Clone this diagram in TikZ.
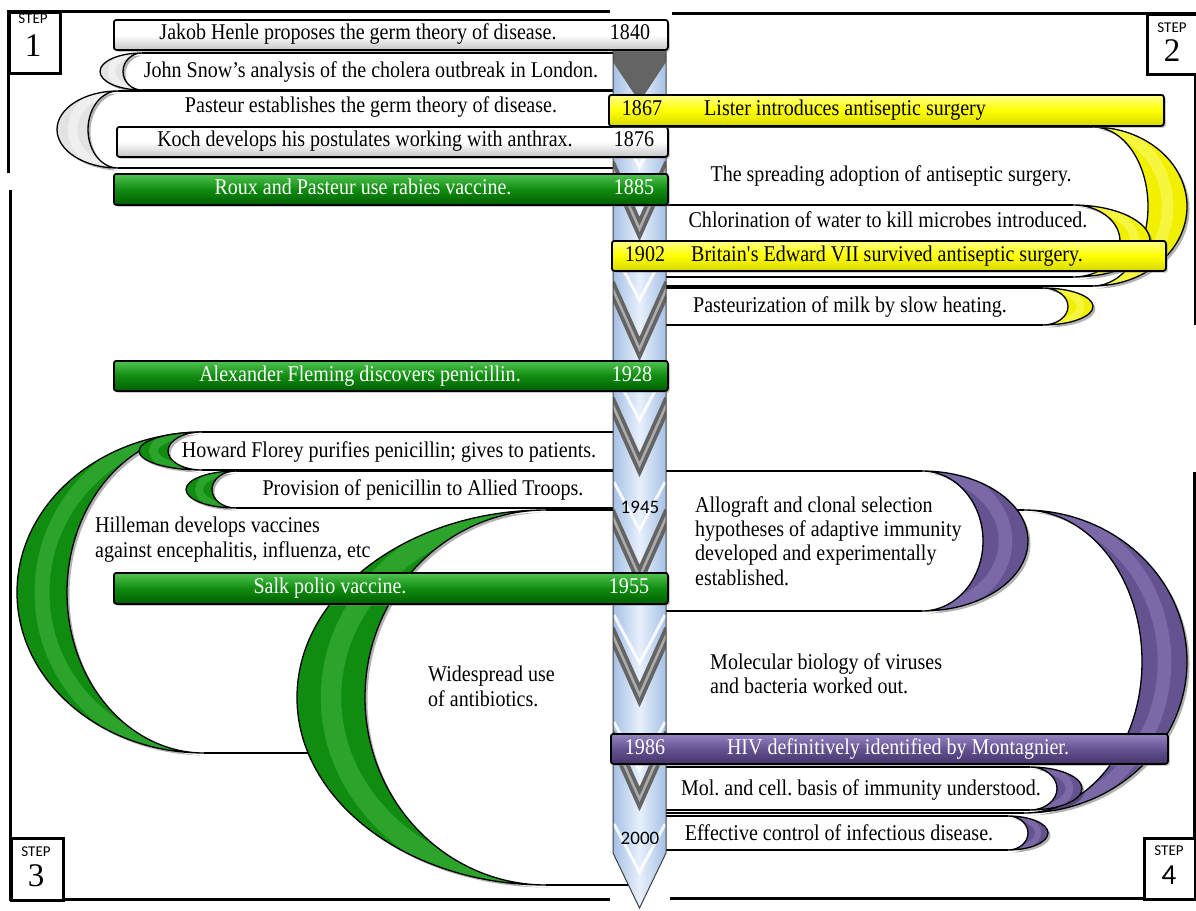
\documentclass[tikz,border=0pt]{standalone}
\usepackage{fontspec}
\setmainfont{Liberation Serif}[FakeStretch=0.89]
\newfontfamily\labelfont{Carlito}
\newfontfamily\stepserif{Liberation Serif}
\usetikzlibrary{shadows}
\frenchspacing

\definecolor{grnbase}{RGB}{16,140,16}
\definecolor{grnlight}{RGB}{80,195,80}
\definecolor{grndark}{RGB}{0,95,0}
\definecolor{ylwbase}{RGB}{255,255,0}
\definecolor{ylwfill}{RGB}{240,240,0}
\definecolor{ylwlight}{RGB}{255,255,140}
\definecolor{ylwdark}{RGB}{215,215,0}
\definecolor{prpbase}{RGB}{100,82,145}
\definecolor{prplight}{RGB}{150,132,195}
\definecolor{prpdark}{RGB}{68,52,105}
\definecolor{spineblue}{RGB}{165,192,228}
\definecolor{spinepale}{RGB}{232,240,252}
\definecolor{chevgray}{RGB}{100,100,100}

\tikzset{
  crescent/.style n args={5}{insert path={
    (#1,#2) .. controls ({#1+0.5523*(#4-#1)},#2) and (#4,{(#2+#3)/2-0.27615*(#3-#2)}) .. (#4,{(#2+#3)/2})
    .. controls (#4,{(#2+#3)/2+0.27615*(#3-#2)}) and ({#1+0.5523*(#4-#1)},#3) .. (#1,#3)
    .. controls ({#1+0.5523*(#5-#1)},#3) and (#5,{(#2+#3)/2+0.27615*(#3-#2)}) .. (#5,{(#2+#3)/2})
    .. controls (#5,{(#2+#3)/2-0.27615*(#3-#2)}) and ({#1+0.5523*(#5-#1)},#2) .. (#1,#2) -- cycle}},
  halfarc/.style n args={4}{insert path={
    (#1,#2) .. controls ({#1+0.5523*(#4-#1)},#2) and (#4,{(#2+#3)/2-0.27615*(#3-#2)}) .. (#4,{(#2+#3)/2})
    .. controls (#4,{(#2+#3)/2+0.27615*(#3-#2)}) and ({#1+0.5523*(#4-#1)},#3) .. (#1,#3)}},
  spineshape/.style={insert path={(613,49) -- (666,49) -- (666,853) -- (639.5,908) -- (613,853) -- cycle}},
  frame/.style={line width=3pt, line join=miter},
  bandline/.style={line width=1.2pt},
  bar/.style={draw=black, line width=1.8pt, rounded corners=2.5pt, inner sep=0pt, anchor=north west,
    minimum height=30pt, drop shadow={opacity=0.4, shadow xshift=2pt, shadow yshift=-2pt}},
  whitebar/.style={bar, top color=white, bottom color=gray!45, middle color=white},
  greenbar/.style={bar, top color=grnlight, bottom color=grndark, middle color=grnbase},
  yellowbar/.style={bar, top color=ylwlight, bottom color=ylwdark, middle color=ylwbase},
  purplebar/.style={bar, top color=prplight, bottom color=prpdark, middle color=prpbase},
  txt/.style={font=\fontsize{22.5}{24}\selectfont, inner sep=0pt, text height=16pt, text depth=4.5pt},
  mtxt/.style={font=\fontsize{22.5}{24.4}\selectfont, inner sep=0pt, align=left, anchor=north west},
  spinelbl/.style={font=\labelfont\fontsize{19}{22}\selectfont, inner sep=0pt},
  stepbox/.style={draw=black, line width=2.5pt, fill=white, anchor=north west, inner sep=0pt},
  steptag/.style={font=\labelfont\fontsize{15}{17}\selectfont, inner sep=0pt},
  stepnum/.style={font=\stepserif\fontsize{33}{35}\selectfont, inner sep=0pt},
}

% a white band running from the spine (#1) to a crescent end:
% tip x #2, top #3, bottom #4, outer bulge #5, inner bulge #6, colour #7, highlight #8
\newcommand\band[8]{%
  \pgfmathsetmacro\bandmid{(#5+#6)/2}%
  \pgfmathsetmacro\bandhl{0.3*abs(#5-#6)}%
  \fill[white] (#1,#3) -- (#2,#3)
    .. controls ({#2+0.5523*(#6-#2)},#3) and (#6,{(#3+#4)/2-0.27615*(#4-#3)}) .. (#6,{(#3+#4)/2})
    .. controls (#6,{(#3+#4)/2+0.27615*(#4-#3)}) and ({#2+0.5523*(#6-#2)},#4) .. (#2,#4)
    -- (#1,#4) -- cycle;
  \draw[bandline] (#1,#3) -- (#2,#3) (#1,#4) -- (#2,#4);
  \fill[black, opacity=0.3, shift={(2.5,2.5)}, crescent={#2}{#3}{#4}{#5}{#6}];
  \fill[#7, crescent={#2}{#3}{#4}{#5}{#6}];
  \begin{scope}
    \clip[crescent={#2}{#3}{#4}{#5}{#6}];
    \draw[#8, line width=\bandhl pt, opacity=0.45, halfarc={#2}{#3}{#4}{\bandmid}];
  \end{scope}
  \draw[black, line width=1.3pt, crescent={#2}{#3}{#4}{#5}{#6}];
}

\begin{document}
\begin{tikzpicture}[x=1pt,y=-1pt]
\useasboundingbox (0,0) rectangle (1196,910);
\fill[white] (0,0) rectangle (1196,910);

% quadrant frames
\draw[frame] (610,11) -- (8,11) -- (8,173);
\draw[frame] (10,190) -- (10,899) -- (610,899);
\draw[frame] (672,13) -- (1195,13) -- (1195,325);
\draw[frame] (1194,472) -- (1194,898) -- (670,898);

% step tags
\node[stepbox, minimum width=51pt, minimum height=61pt] (step1) at (8,11) {};
\node[steptag] (step1tag) at (33,19) {STEP};
\node[stepnum] (step1num) at (33,46) {1};
\node[stepbox, minimum width=51pt, minimum height=60pt] (step2) at (1146,13) {};
\node[steptag] (step2tag) at (1172,28) {STEP};
\node[stepnum] (step2num) at (1172,51) {2};
\node[stepbox, minimum width=52pt, minimum height=62pt] (step3) at (10,837) {};
\node[steptag] (step3tag) at (36,852) {STEP};
\node[stepnum] (step3num) at (36,876) {3};
\node[stepbox, minimum width=51pt, minimum height=61pt] (step4) at (1143,837) {};
\node[steptag] (step4tag) at (1169,851) {STEP};
\node[steptag, font=\labelfont\fontsize{29}{31}\selectfont] (step4num) at (1169,875) {4};

% step 1 bands
\band{640}{142}{53}{90}{100}{123}{gray!22}{white}
\band{640}{118}{91}{168}{57}{88}{gray!22}{white}

% step 2 bands
\band{640}{1093}{127}{286}{1187}{1148}{ylwfill}{ylwlight}
\band{640}{1073}{205}{277}{1150}{1120}{ylwfill}{ylwlight}
\band{640}{1043}{288}{325}{1093}{1068}{ylwfill}{ylwlight}

% step 3 bands
\band{640}{204}{432}{753}{17}{67}{grnbase}{grnlight}
\band{640}{202}{432}{470}{139}{168}{grnbase}{grnlight}
\band{640}{236}{471}{508}{186}{212}{grnbase}{grnlight}
\band{640}{546}{510}{885}{297}{365}{grnbase}{grnlight}

% step 4 bands
\band{640}{1024}{510}{813}{1187}{1142}{prpbase}{prplight}
\band{640}{922}{471}{611}{1028}{983}{prpbase}{prplight}
\band{640}{1030}{767}{810}{1082}{1057}{prpbase}{prplight}
\band{640}{1008}{816}{850}{1048}{1028}{prpbase}{prplight}

% time spine
\path[left color=spineblue, right color=spineblue, middle color=spinepale, spineshape];
\begin{scope}
  \clip[spineshape];
  \foreach \t in {167,300,420,530,663,770,872}
    \draw[white, line width=3pt, opacity=0.85] (614,\t-48) -- (639.5,\t) -- (665,\t-48);
  \foreach \t in {237,357,473,585,703,807} {
    \draw[chevgray, line width=10pt] (610,\t-74) -- (639.5,\t-8) -- (669,\t-74);
    \draw[gray!65, line width=2.5pt] (610,\t-74) -- (639.5,\t-8) -- (669,\t-74);
  }
  \fill[chevgray] (613,49) -- (666,49) -- (666,62) -- (639.5,102) -- (613,62) -- cycle;
\end{scope}
\draw[gray!50!black, line width=1pt, spineshape];
\node[spinelbl] (y1945) at (640,507) {1945};
\node[spinelbl] (y2000) at (640,838) {2000};

% event bars
\node[whitebar, minimum width=554pt] (henle) at (113,19) {};
\node[whitebar, minimum width=551pt] (koch) at (116,126) {};
\node[greenbar, minimum width=554pt, minimum height=31pt] (roux) at (113,173) {};
\node[yellowbar, minimum width=555pt, minimum height=31pt] (lister) at (608,94) {};
\node[yellowbar, minimum width=554pt] (edward) at (611,240) {};
\node[greenbar, minimum width=554pt] (fleming) at (113,360) {};
\node[greenbar, minimum width=554pt, minimum height=31pt] (salk) at (113,572) {};
\node[purplebar, minimum width=557pt] (hiv) at (610,733) {};

% texts
\node[txt] (t-henle) at (358,34) {Jakob Henle proposes the germ theory of disease.};
\node[txt] (y1840) at (630,34) {1840};
\node[txt] (t-snow) at (371,72) {John Snow’s analysis of the cholera outbreak in London.};
\node[txt] (t-pasteur) at (371,107) {Pasteur establishes the germ theory of disease.};
\node[txt] (t-koch) at (365,141) {Koch develops his postulates working with anthrax.};
\node[txt] (y1876) at (634,141) {1876};
\node[txt, white] (t-roux) at (363,189) {Roux and Pasteur use rabies vaccine.};
\node[txt, white] (y1885) at (634,189) {1885};
\node[txt] (y1867) at (642,110) {1867};
\node[txt] (t-lister) at (845,110) {Lister introduces antiseptic surgery};
\node[txt] (t-spread) at (891,176) {The spreading adoption of antiseptic surgery.};
\node[txt] (t-chlor) at (888,222) {Chlorination of water to kill microbes introduced.};
\node[txt] (y1902) at (645,256) {1902};
\node[txt] (t-edward) at (887,256) {Britain\textquotesingle s Edward VII survived antiseptic surgery.};
\node[txt] (t-milk) at (850,307) {Pasteurization of milk by slow heating.};
\node[txt, white] (t-fleming) at (360,376) {Alexander Fleming discovers penicillin.};
\node[txt, white] (y1928) at (632,376) {1928};
\node[txt] (t-florey) at (389,452) {Howard Florey purifies penicillin; gives to patients.};
\node[txt] (t-troops) at (423,490) {Provision of penicillin to Allied Troops.};
\node[mtxt] (t-hilleman) at (95,517) {Hilleman develops vaccines\\against encephalitis, influenza, etc};
\node[txt, white] (t-salk) at (330,588) {Salk polio vaccine.};
\node[txt, white] (y1955) at (629,588) {1955};
\node[mtxt] (t-antibio) at (428,666) {Widespread use\\of antibiotics.};
\node[mtxt] (t-allograft) at (695,496) {Allograft and clonal selection\\hypotheses of adaptive immunity\\developed and experimentally\\established.};
\node[mtxt] (t-molbio) at (710,653) {Molecular biology of viruses\\and bacteria worked out.};
\node[txt, white] (y1986) at (645,749) {1986};
\node[txt, white] (t-hiv) at (898,749) {HIV definitively identified by Montagnier.};
\node[txt] (t-molcell) at (861,790) {Mol. and cell. basis of immunity understood.};
\node[txt] (t-control) at (839,835) {Effective control of infectious disease.};
\end{tikzpicture}
\end{document}
